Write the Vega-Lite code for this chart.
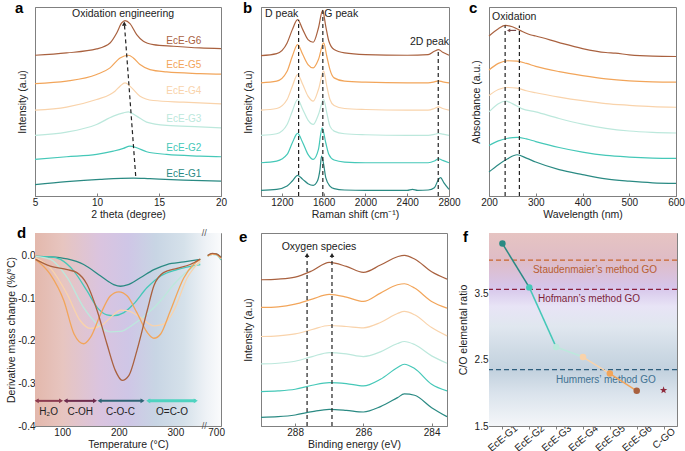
{
"$schema":"https://vega.github.io/schema/vega-lite/v6.json",
"autosize":{"type":"pad"},
"padding":{"left":6,"top":0,"right":0,"bottom":0},
"background":"white",
"config":{"font":"Liberation Sans","view":{"stroke":"#808080","strokeWidth":1},
"axis":{"labelFont":"Liberation Sans","titleFont":"Liberation Sans","labelFontSize":10,"titleFontSize":10.5,"titleFontWeight":"normal","labelColor":"#222","titleColor":"#222","domainColor":"#808080","tickColor":"#808080","grid":false,"tickSize":-3,"labelPadding":4,"titlePadding":2,"labelFlush":false,"labelOverlap":false},
"text":{"font":"Liberation Sans","fontSize":10},
"line":{"strokeWidth":1.2,"interpolate":"monotone"},
"title":{"anchor":"start","frame":"group","fontSize":15,"fontWeight":"bold","font":"Liberation Sans","color":"#000","baseline":"alphabetic","offset":-9}},
"datasets":{
"a":[
{"s":"G6","x":5,"y":423},{"s":"G6","x":7.55,"y":430},{"s":"G6","x":9.97,"y":442},{"s":"G6","x":11.05,"y":460},{"s":"G6","x":11.59,"y":490},{"s":"G6","x":11.99,"y":520},{"s":"G6","x":12.26,"y":527},{"s":"G6","x":12.66,"y":518},{"s":"G6","x":13.2,"y":485},{"s":"G6","x":13.74,"y":465},{"s":"G6","x":14.54,"y":455},{"s":"G6","x":16.16,"y":450},{"s":"G6","x":18.3,"y":445},{"s":"G6","x":20,"y":443},
{"s":"G5","x":5,"y":338},{"s":"G5","x":7.55,"y":345},{"s":"G5","x":9.97,"y":365},{"s":"G5","x":11.05,"y":385},{"s":"G5","x":11.86,"y":415},{"s":"G5","x":12.53,"y":423},{"s":"G5","x":12.93,"y":415},{"s":"G5","x":13.47,"y":395},{"s":"G5","x":14.27,"y":380},{"s":"G5","x":15.62,"y":373},{"s":"G5","x":18.3,"y":368},{"s":"G5","x":20,"y":366},
{"s":"G4","x":5,"y":258},{"s":"G4","x":7.55,"y":267},{"s":"G4","x":9.97,"y":290},{"s":"G4","x":11.05,"y":305},{"s":"G4","x":11.45,"y":315},{"s":"G4","x":11.86,"y":330},{"s":"G4","x":12.26,"y":340},{"s":"G4","x":12.8,"y":325},{"s":"G4","x":13.47,"y":300},{"s":"G4","x":14.54,"y":287},{"s":"G4","x":16.96,"y":282},{"s":"G4","x":20,"y":277},
{"s":"G3","x":5,"y":182},{"s":"G3","x":7.55,"y":192},{"s":"G3","x":9.97,"y":215},{"s":"G3","x":11.32,"y":240},{"s":"G3","x":12.13,"y":250},{"s":"G3","x":12.53,"y":253},{"s":"G3","x":13.2,"y":240},{"s":"G3","x":14.0,"y":222},{"s":"G3","x":15.62,"y":212},{"s":"G3","x":18.3,"y":208},{"s":"G3","x":20,"y":205},
{"s":"G2","x":5,"y":110},{"s":"G2","x":7.55,"y":118},{"s":"G2","x":9.97,"y":125},{"s":"G2","x":11.32,"y":135},{"s":"G2","x":12.13,"y":143},{"s":"G2","x":12.66,"y":150},{"s":"G2","x":13.2,"y":145},{"s":"G2","x":14.0,"y":133},{"s":"G2","x":15.62,"y":125},{"s":"G2","x":18.3,"y":120},{"s":"G2","x":20,"y":118},
{"s":"G1","x":5,"y":34},{"s":"G1","x":7.55,"y":43},{"s":"G1","x":10.24,"y":50},{"s":"G1","x":12.93,"y":54},{"s":"G1","x":14.27,"y":52},{"s":"G1","x":16.96,"y":48},{"s":"G1","x":20,"y":45}],
"b":[
{"s":"G6","x":1000,"y":422},{"s":"G6","x":1150,"y":428},{"s":"G6","x":1250,"y":460},{"s":"G6","x":1300,"y":500},{"s":"G6","x":1350,"y":530},{"s":"G6","x":1400,"y":500},{"s":"G6","x":1450,"y":470},{"s":"G6","x":1500,"y":462},{"s":"G6","x":1550,"y":505},{"s":"G6","x":1590,"y":558},{"s":"G6","x":1620,"y":510},{"s":"G6","x":1650,"y":465},{"s":"G6","x":1700,"y":440},{"s":"G6","x":1800,"y":430},{"s":"G6","x":2000,"y":425},{"s":"G6","x":2400,"y":423},{"s":"G6","x":2600,"y":425},{"s":"G6","x":2660,"y":435},{"s":"G6","x":2700,"y":440},{"s":"G6","x":2740,"y":432},{"s":"G6","x":2800,"y":423},
{"s":"G5","x":1000,"y":340},{"s":"G5","x":1150,"y":345},{"s":"G5","x":1250,"y":375},{"s":"G5","x":1300,"y":420},{"s":"G5","x":1350,"y":455},{"s":"G5","x":1400,"y":425},{"s":"G5","x":1450,"y":395},{"s":"G5","x":1500,"y":385},{"s":"G5","x":1550,"y":410},{"s":"G5","x":1600,"y":460},{"s":"G5","x":1630,"y":420},{"s":"G5","x":1660,"y":380},{"s":"G5","x":1700,"y":355},{"s":"G5","x":1800,"y":345},{"s":"G5","x":2000,"y":342},{"s":"G5","x":2400,"y":340},{"s":"G5","x":2600,"y":340},{"s":"G5","x":2660,"y":343},{"s":"G5","x":2700,"y":346},{"s":"G5","x":2740,"y":343},{"s":"G5","x":2800,"y":340},
{"s":"G4","x":1000,"y":258},{"s":"G4","x":1150,"y":263},{"s":"G4","x":1250,"y":290},{"s":"G4","x":1300,"y":330},{"s":"G4","x":1350,"y":365},{"s":"G4","x":1400,"y":335},{"s":"G4","x":1450,"y":300},{"s":"G4","x":1500,"y":285},{"s":"G4","x":1550,"y":320},{"s":"G4","x":1600,"y":375},{"s":"G4","x":1630,"y":330},{"s":"G4","x":1660,"y":290},{"s":"G4","x":1700,"y":272},{"s":"G4","x":1800,"y":263},{"s":"G4","x":2000,"y":260},{"s":"G4","x":2400,"y":258},{"s":"G4","x":2600,"y":258},{"s":"G4","x":2660,"y":263},{"s":"G4","x":2700,"y":268},{"s":"G4","x":2740,"y":263},{"s":"G4","x":2800,"y":258},
{"s":"G3","x":1000,"y":182},{"s":"G3","x":1150,"y":187},{"s":"G3","x":1250,"y":215},{"s":"G3","x":1300,"y":255},{"s":"G3","x":1350,"y":290},{"s":"G3","x":1400,"y":260},{"s":"G3","x":1450,"y":228},{"s":"G3","x":1500,"y":215},{"s":"G3","x":1550,"y":245},{"s":"G3","x":1600,"y":290},{"s":"G3","x":1630,"y":250},{"s":"G3","x":1660,"y":210},{"s":"G3","x":1700,"y":195},{"s":"G3","x":1800,"y":187},{"s":"G3","x":2000,"y":184},{"s":"G3","x":2400,"y":182},{"s":"G3","x":2600,"y":182},{"s":"G3","x":2660,"y":185},{"s":"G3","x":2700,"y":188},{"s":"G3","x":2740,"y":186},{"s":"G3","x":2800,"y":182},
{"s":"G2","x":1000,"y":100},{"s":"G2","x":1150,"y":105},{"s":"G2","x":1250,"y":125},{"s":"G2","x":1300,"y":160},{"s":"G2","x":1350,"y":188},{"s":"G2","x":1400,"y":160},{"s":"G2","x":1450,"y":125},{"s":"G2","x":1500,"y":110},{"s":"G2","x":1550,"y":140},{"s":"G2","x":1585,"y":205},{"s":"G2","x":1620,"y":160},{"s":"G2","x":1650,"y":125},{"s":"G2","x":1700,"y":108},{"s":"G2","x":1800,"y":102},{"s":"G2","x":2000,"y":100},{"s":"G2","x":2400,"y":100},{"s":"G2","x":2600,"y":100},{"s":"G2","x":2660,"y":105},{"s":"G2","x":2700,"y":112},{"s":"G2","x":2740,"y":107},{"s":"G2","x":2800,"y":100},
{"s":"G1","x":1000,"y":17},{"s":"G1","x":1150,"y":20},{"s":"G1","x":1250,"y":30},{"s":"G1","x":1300,"y":45},{"s":"G1","x":1350,"y":62},{"s":"G1","x":1400,"y":50},{"s":"G1","x":1450,"y":37},{"s":"G1","x":1500,"y":32},{"s":"G1","x":1540,"y":45},{"s":"G1","x":1565,"y":80},{"s":"G1","x":1580,"y":120},{"s":"G1","x":1600,"y":95},{"s":"G1","x":1620,"y":55},{"s":"G1","x":1660,"y":30},{"s":"G1","x":1700,"y":22},{"s":"G1","x":1800,"y":18},{"s":"G1","x":2000,"y":17},{"s":"G1","x":2400,"y":17},{"s":"G1","x":2450,"y":20},{"s":"G1","x":2500,"y":17},{"s":"G1","x":2600,"y":18},{"s":"G1","x":2660,"y":25},{"s":"G1","x":2700,"y":50},{"s":"G1","x":2720,"y":55},{"s":"G1","x":2750,"y":40},{"s":"G1","x":2800,"y":20}],
"c":[
{"s":"G6","x":200,"y":485},{"s":"G6","x":220,"y":507},{"s":"G6","x":235,"y":517},{"s":"G6","x":250,"y":513},{"s":"G6","x":265,"y":503},{"s":"G6","x":290,"y":488},{"s":"G6","x":300,"y":485},{"s":"G6","x":350,"y":465},{"s":"G6","x":400,"y":447},{"s":"G6","x":450,"y":435},{"s":"G6","x":470,"y":433},{"s":"G6","x":500,"y":428},{"s":"G6","x":550,"y":424},{"s":"G6","x":600,"y":423},
{"s":"G5","x":200,"y":382},{"s":"G5","x":220,"y":402},{"s":"G5","x":240,"y":410},{"s":"G5","x":260,"y":409},{"s":"G5","x":280,"y":402},{"s":"G5","x":300,"y":393},{"s":"G5","x":350,"y":377},{"s":"G5","x":400,"y":365},{"s":"G5","x":450,"y":355},{"s":"G5","x":500,"y":349},{"s":"G5","x":550,"y":346},{"s":"G5","x":600,"y":345},
{"s":"G4","x":200,"y":305},{"s":"G4","x":220,"y":323},{"s":"G4","x":240,"y":329},{"s":"G4","x":260,"y":327},{"s":"G4","x":280,"y":319},{"s":"G4","x":300,"y":313},{"s":"G4","x":350,"y":300},{"s":"G4","x":400,"y":289},{"s":"G4","x":450,"y":280},{"s":"G4","x":500,"y":275},{"s":"G4","x":550,"y":271},{"s":"G4","x":600,"y":269},
{"s":"G3","x":200,"y":255},{"s":"G3","x":220,"y":280},{"s":"G3","x":235,"y":288},{"s":"G3","x":250,"y":280},{"s":"G3","x":270,"y":265},{"s":"G3","x":300,"y":255},{"s":"G3","x":350,"y":235},{"s":"G3","x":400,"y":218},{"s":"G3","x":450,"y":205},{"s":"G3","x":500,"y":197},{"s":"G3","x":550,"y":193},{"s":"G3","x":600,"y":191},
{"s":"G2","x":200,"y":153},{"s":"G2","x":220,"y":167},{"s":"G2","x":240,"y":175},{"s":"G2","x":260,"y":178},{"s":"G2","x":280,"y":173},{"s":"G2","x":300,"y":165},{"s":"G2","x":350,"y":147},{"s":"G2","x":400,"y":133},{"s":"G2","x":450,"y":123},{"s":"G2","x":500,"y":118},{"s":"G2","x":550,"y":115},{"s":"G2","x":600,"y":114},
{"s":"G1","x":200,"y":73},{"s":"G1","x":220,"y":95},{"s":"G1","x":240,"y":113},{"s":"G1","x":260,"y":125},{"s":"G1","x":280,"y":115},{"s":"G1","x":300,"y":103},{"s":"G1","x":350,"y":80},{"s":"G1","x":400,"y":65},{"s":"G1","x":450,"y":52},{"s":"G1","x":500,"y":45},{"s":"G1","x":550,"y":40},{"s":"G1","x":600,"y":38}],
"e":[
{"s":"G6","x":289,"y":438},{"s":"G6","x":288.5,"y":440},{"s":"G6","x":288,"y":446},{"s":"G6","x":287.5,"y":465},{"s":"G6","x":287,"y":490},{"s":"G6","x":286.5,"y":478},{"s":"G6","x":286,"y":460},{"s":"G6","x":285.5,"y":482},{"s":"G6","x":285,"y":507},{"s":"G6","x":284.8,"y":511},{"s":"G6","x":284.5,"y":500},{"s":"G6","x":284,"y":462},{"s":"G6","x":283.55,"y":440},
{"s":"G5","x":289,"y":355},{"s":"G5","x":288.5,"y":357},{"s":"G5","x":288,"y":365},{"s":"G5","x":287.5,"y":380},{"s":"G5","x":287,"y":394},{"s":"G5","x":286.5,"y":386},{"s":"G5","x":286,"y":373},{"s":"G5","x":285.5,"y":398},{"s":"G5","x":285,"y":423},{"s":"G5","x":284.8,"y":426},{"s":"G5","x":284.5,"y":413},{"s":"G5","x":284,"y":373},{"s":"G5","x":283.55,"y":353},
{"s":"G4","x":289,"y":268},{"s":"G4","x":288.5,"y":270},{"s":"G4","x":288,"y":276},{"s":"G4","x":287.5,"y":289},{"s":"G4","x":287,"y":301},{"s":"G4","x":286.5,"y":298},{"s":"G4","x":286,"y":294},{"s":"G4","x":285.5,"y":310},{"s":"G4","x":285,"y":337},{"s":"G4","x":284.8,"y":343},{"s":"G4","x":284.5,"y":333},{"s":"G4","x":284,"y":295},{"s":"G4","x":283.55,"y":270},
{"s":"G3","x":289,"y":186},{"s":"G3","x":288.5,"y":188},{"s":"G3","x":288,"y":194},{"s":"G3","x":287.5,"y":208},{"s":"G3","x":287,"y":220},{"s":"G3","x":286.5,"y":216},{"s":"G3","x":286,"y":208},{"s":"G3","x":285.5,"y":222},{"s":"G3","x":285,"y":247},{"s":"G3","x":284.8,"y":253},{"s":"G3","x":284.5,"y":244},{"s":"G3","x":284,"y":210},{"s":"G3","x":283.55,"y":188},
{"s":"G2","x":289,"y":103},{"s":"G2","x":288.5,"y":105},{"s":"G2","x":288,"y":110},{"s":"G2","x":287.5,"y":122},{"s":"G2","x":287,"y":130},{"s":"G2","x":286.5,"y":127},{"s":"G2","x":286,"y":120},{"s":"G2","x":285.5,"y":140},{"s":"G2","x":285,"y":175},{"s":"G2","x":284.8,"y":185},{"s":"G2","x":284.5,"y":172},{"s":"G2","x":284,"y":125},{"s":"G2","x":283.55,"y":105},
{"s":"G1","x":289,"y":26},{"s":"G1","x":288.5,"y":28},{"s":"G1","x":288,"y":33},{"s":"G1","x":287.5,"y":43},{"s":"G1","x":287,"y":50},{"s":"G1","x":286.5,"y":47},{"s":"G1","x":286,"y":42},{"s":"G1","x":285.5,"y":58},{"s":"G1","x":285,"y":85},{"s":"G1","x":284.8,"y":96},{"s":"G1","x":284.5,"y":92},{"s":"G1","x":284,"y":55},{"s":"G1","x":283.55,"y":28}],
"d":[
{"s":"G1","g":1,"t":53,"v":-0.002},{"s":"G1","g":1,"t":79,"v":-0.003},{"s":"G1","g":1,"t":109,"v":-0.008},{"s":"G1","g":1,"t":138,"v":-0.021},{"s":"G1","g":1,"t":168,"v":-0.048},{"s":"G1","g":1,"t":191,"v":-0.068},{"s":"G1","g":1,"t":203,"v":-0.072},{"s":"G1","g":1,"t":215,"v":-0.069},{"s":"G1","g":1,"t":238,"v":-0.052},{"s":"G1","g":1,"t":262,"v":-0.033},{"s":"G1","g":1,"t":285,"v":-0.021},{"s":"G1","g":1,"t":315,"v":-0.015},{"s":"G1","g":1,"t":344,"v":-0.009},
{"s":"G2","g":1,"t":53,"v":-0.002},{"s":"G2","g":1,"t":79,"v":-0.003},{"s":"G2","g":1,"t":97,"v":-0.009},{"s":"G2","g":1,"t":121,"v":-0.037},{"s":"G2","g":1,"t":144,"v":-0.083},{"s":"G2","g":1,"t":162,"v":-0.122},{"s":"G2","g":1,"t":179,"v":-0.139},{"s":"G2","g":1,"t":191,"v":-0.141},{"s":"G2","g":1,"t":209,"v":-0.134},{"s":"G2","g":1,"t":226,"v":-0.114},{"s":"G2","g":1,"t":250,"v":-0.075},{"s":"G2","g":1,"t":274,"v":-0.048},{"s":"G2","g":1,"t":303,"v":-0.033},{"s":"G2","g":1,"t":344,"v":-0.021},
{"s":"G3","g":1,"t":53,"v":-0.002},{"s":"G3","g":1,"t":79,"v":-0.009},{"s":"G3","g":1,"t":109,"v":-0.052},{"s":"G3","g":1,"t":138,"v":-0.122},{"s":"G3","g":1,"t":162,"v":-0.161},{"s":"G3","g":1,"t":185,"v":-0.179},{"s":"G3","g":1,"t":203,"v":-0.178},{"s":"G3","g":1,"t":226,"v":-0.161},{"s":"G3","g":1,"t":250,"v":-0.137},{"s":"G3","g":1,"t":274,"v":-0.106},{"s":"G3","g":1,"t":297,"v":-0.068},{"s":"G3","g":1,"t":321,"v":-0.037},{"s":"G3","g":1,"t":344,"v":-0.017},
{"s":"G4","g":1,"t":53,"v":-0.005},{"s":"G4","g":1,"t":79,"v":-0.029},{"s":"G4","g":1,"t":109,"v":-0.091},{"s":"G4","g":1,"t":132,"v":-0.153},{"s":"G4","g":1,"t":150,"v":-0.171},{"s":"G4","g":1,"t":168,"v":-0.165},{"s":"G4","g":1,"t":191,"v":-0.139},{"s":"G4","g":1,"t":203,"v":-0.128},{"s":"G4","g":1,"t":215,"v":-0.129},{"s":"G4","g":1,"t":238,"v":-0.145},{"s":"G4","g":1,"t":262,"v":-0.165},{"s":"G4","g":1,"t":279,"v":-0.161},{"s":"G4","g":1,"t":297,"v":-0.13},{"s":"G4","g":1,"t":321,"v":-0.052},{"s":"G4","g":1,"t":344,"v":-0.013},
{"s":"G5","g":1,"t":53,"v":-0.009},{"s":"G5","g":1,"t":79,"v":-0.044},{"s":"G5","g":1,"t":103,"v":-0.106},{"s":"G5","g":1,"t":121,"v":-0.184},{"s":"G5","g":1,"t":138,"v":-0.207},{"s":"G5","g":1,"t":150,"v":-0.192},{"s":"G5","g":1,"t":168,"v":-0.137},{"s":"G5","g":1,"t":185,"v":-0.095},{"s":"G5","g":1,"t":200,"v":-0.085},{"s":"G5","g":1,"t":215,"v":-0.095},{"s":"G5","g":1,"t":232,"v":-0.134},{"s":"G5","g":1,"t":250,"v":-0.18},{"s":"G5","g":1,"t":262,"v":-0.194},{"s":"G5","g":1,"t":274,"v":-0.184},{"s":"G5","g":1,"t":291,"v":-0.13},{"s":"G5","g":1,"t":315,"v":-0.052},{"s":"G5","g":1,"t":332,"v":-0.021},{"s":"G5","g":1,"t":344,"v":-0.009},
{"s":"G6","g":1,"t":53,"v":-0.009},{"s":"G6","g":1,"t":79,"v":-0.025},{"s":"G6","g":1,"t":109,"v":-0.033},{"s":"G6","g":1,"t":126,"v":-0.04},{"s":"G6","g":1,"t":144,"v":-0.068},{"s":"G6","g":1,"t":162,"v":-0.13},{"s":"G6","g":1,"t":179,"v":-0.207},{"s":"G6","g":1,"t":194,"v":-0.27},{"s":"G6","g":1,"t":206,"v":-0.293},{"s":"G6","g":1,"t":218,"v":-0.281},{"s":"G6","g":1,"t":232,"v":-0.223},{"s":"G6","g":1,"t":250,"v":-0.13},{"s":"G6","g":1,"t":262,"v":-0.071},{"s":"G6","g":1,"t":279,"v":-0.04},{"s":"G6","g":1,"t":303,"v":-0.03},{"s":"G6","g":1,"t":326,"v":-0.021},{"s":"G6","g":1,"t":344,"v":-0.008},
{"s":"G1","g":2,"t":674,"v":0.0},{"s":"G1","g":2,"t":688,"v":0.004},{"s":"G1","g":2,"t":700,"v":0.004},{"s":"G1","g":2,"t":715,"v":-0.004},
{"s":"G2","g":2,"t":674,"v":-0.001},{"s":"G2","g":2,"t":688,"v":0.003},{"s":"G2","g":2,"t":700,"v":0.002},{"s":"G2","g":2,"t":715,"v":-0.01},
{"s":"G3","g":2,"t":674,"v":-0.001},{"s":"G3","g":2,"t":688,"v":0.003},{"s":"G3","g":2,"t":700,"v":0.002},{"s":"G3","g":2,"t":715,"v":-0.008},
{"s":"G4","g":2,"t":674,"v":-0.001},{"s":"G4","g":2,"t":688,"v":0.003},{"s":"G4","g":2,"t":700,"v":0.003},{"s":"G4","g":2,"t":715,"v":-0.007},
{"s":"G5","g":2,"t":674,"v":-0.001},{"s":"G5","g":2,"t":688,"v":0.004},{"s":"G5","g":2,"t":700,"v":0.003},{"s":"G5","g":2,"t":715,"v":-0.006},
{"s":"G6","g":2,"t":674,"v":0.0},{"s":"G6","g":2,"t":688,"v":0.005},{"s":"G6","g":2,"t":700,"v":0.004},{"s":"G6","g":2,"t":715,"v":-0.004}],
"f":[{"k":"EcE-G1","v":4.25,"s":"G1"},{"k":"EcE-G2","v":3.59,"s":"G2"},{"k":"EcE-G3","v":2.69,"s":"G3"},{"k":"EcE-G4","v":2.54,"s":"G4"},{"k":"EcE-G5","v":2.29,"s":"G5"},{"k":"EcE-G6","v":2.03,"s":"G6"}],
"fseg":[{"k":"EcE-G1","k2":"EcE-G2","v":4.25,"v2":3.59,"s":"G1"},{"k":"EcE-G2","k2":"EcE-G3","v":3.59,"v2":2.69,"s":"G2"},{"k":"EcE-G3","k2":"EcE-G4","v":2.69,"v2":2.54,"s":"G3"},{"k":"EcE-G4","k2":"EcE-G5","v":2.54,"v2":2.29,"s":"G4"},{"k":"EcE-G5","k2":"EcE-G6","v":2.29,"v2":2.03,"s":"G5"}]
},
"columns":3,
"spacing":{"row":37,"column":40},
"bounds":"flush",
"concat":[
{"width":186,"height":189,"title":{"text":"a","dx":-20},
"layer":[
{"data":{"name":"a"},"mark":{"type":"line"},
"encoding":{"x":{"field":"x","type":"quantitative","scale":{"domain":[5,20],"nice":false,"zero":false},"axis":{"values":[5,10,15,20],"title":"2 theta (degree)"}},
"y":{"field":"y","type":"quantitative","scale":{"domain":[0,568],"nice":false,"zero":false},"axis":{"labels":false,"ticks":false,"title":"Intensity (a.u)","titlePadding":8}},
"color":{"field":"s","type":"nominal","scale":{"domain":["G1","G2","G3","G4","G5","G6"],"range":["#2a8a83","#45c8b8","#bce8dc","#f9d3ab","#f2a55a","#a9613f"]},"legend":null}}},
{"data":{"values":[{"s":"G6","x":17,"y":465,"t":"EcE-G6"},{"s":"G5","x":17,"y":395,"t":"EcE-G5"},{"s":"G4","x":17,"y":315,"t":"EcE-G4"},{"s":"G3","x":17,"y":230,"t":"EcE-G3"},{"s":"G2","x":17,"y":143,"t":"EcE-G2"},{"s":"G1","x":17,"y":65,"t":"EcE-G1"}]},
"mark":{"type":"text","fontSize":10},
"encoding":{"x":{"field":"x","type":"quantitative"},"y":{"field":"y","type":"quantitative"},"text":{"field":"t"},"color":{"field":"s","type":"nominal","legend":null}}},
{"data":{"values":[{"x":13.12,"y":60,"x2":12.22,"y2":512}]},"mark":{"type":"rule","color":"#222","strokeDash":[4,3],"strokeWidth":1.2},
"encoding":{"x":{"field":"x","type":"quantitative"},"y":{"field":"y","type":"quantitative"},"x2":{"field":"x2"},"y2":{"field":"y2"}}},
{"data":{"values":[{"x":12.2,"y":518}]},"mark":{"type":"point","shape":"triangle-up","filled":true,"color":"#222","size":22,"opacity":1},
"encoding":{"x":{"field":"x","type":"quantitative"},"y":{"field":"y","type":"quantitative"}}},
{"data":{"values":[{"x":12.1,"y":547,"t":"Oxidation engineering"}]},"mark":{"type":"text","fontSize":10.5,"color":"#222"},
"encoding":{"x":{"field":"x","type":"quantitative"},"y":{"field":"y","type":"quantitative"},"text":{"field":"t"}}}
]},
{"width":188,"height":189,"title":{"text":"b","dx":-18},
"layer":[
{"data":{"name":"b"},"mark":{"type":"line"},
"encoding":{"x":{"field":"x","type":"quantitative","scale":{"domain":[1000,2800],"nice":false,"zero":false},"axis":{"values":[1200,1600,2000,2400,2800],"format":"d","title":"Raman shift (cm⁻¹)"}},
"y":{"field":"y","type":"quantitative","scale":{"domain":[0,568],"nice":false,"zero":false},"axis":{"labels":false,"ticks":false,"title":"Intensity (a.u)","titlePadding":8}},
"color":{"field":"s","type":"nominal","scale":{"domain":["G1","G2","G3","G4","G5","G6"],"range":["#2a8a83","#45c8b8","#bce8dc","#f9d3ab","#f2a55a","#a9613f"]},"legend":null}}},
{"data":{"values":[{"x":1360,"y":0,"y2":530},{"x":1592,"y":0,"y2":558},{"x":2697,"y":0,"y2":440}]},"mark":{"type":"rule","color":"#222","strokeDash":[4,3],"strokeWidth":1.2},
"encoding":{"x":{"field":"x","type":"quantitative"},"y":{"field":"y","type":"quantitative"},"y2":{"field":"y2"}}},
{"data":{"values":[{"x":1198,"y":548,"t":"D peak"},{"x":1768,"y":548,"t":"G peak"},{"x":2613,"y":462,"t":"2D peak"}]},"mark":{"type":"text","fontSize":10.5,"color":"#222"},
"encoding":{"x":{"field":"x","type":"quantitative"},"y":{"field":"y","type":"quantitative"},"text":{"field":"t"}}}
]},
{"width":187,"height":189,"title":{"text":"c","dx":-20},
"layer":[
{"data":{"name":"c"},"mark":{"type":"line"},
"encoding":{"x":{"field":"x","type":"quantitative","scale":{"domain":[200,600],"nice":false,"zero":false},"axis":{"values":[200,300,400,500,600],"title":"Wavelength (nm)"}},
"y":{"field":"y","type":"quantitative","scale":{"domain":[0,573],"nice":false,"zero":false},"axis":{"labels":false,"ticks":false,"title":"Absorbance (a.u.)","titlePadding":8}},
"color":{"field":"s","type":"nominal","scale":{"domain":["G1","G2","G3","G4","G5","G6"],"range":["#2a8a83","#45c8b8","#bce8dc","#f9d3ab","#f2a55a","#a9613f"]},"legend":null}}},
{"data":{"values":[{"x":234.5,"y":0,"y2":517},{"x":265,"y":0,"y2":517}]},"mark":{"type":"rule","color":"#222","strokeDash":[4,3],"strokeWidth":1.2},
"encoding":{"x":{"field":"x","type":"quantitative"},"y":{"field":"y","type":"quantitative"},"y2":{"field":"y2"}}},
{"data":{"values":[{"x":258,"y":502,"x2":243}]},"mark":{"type":"rule","color":"#7a4a4a","strokeWidth":1.2},
"encoding":{"x":{"field":"x","type":"quantitative"},"y":{"field":"y","type":"quantitative"},"x2":{"field":"x2"}}},
{"data":{"values":[{"x":242,"y":502}]},"mark":{"type":"point","shape":"triangle-left","filled":true,"color":"#7a4a4a","size":14,"opacity":1},
"encoding":{"x":{"field":"x","type":"quantitative"},"y":{"field":"y","type":"quantitative"}}},
{"data":{"values":[{"x":254,"y":543,"t":"Oxidation"}]},"mark":{"type":"text","fontSize":10.5,"color":"#222"},
"encoding":{"x":{"field":"x","type":"quantitative"},"y":{"field":"y","type":"quantitative"},"text":{"field":"t"}}}
]},
{"width":186,"height":193,"title":{"text":"d","dx":-18,"offset":-12},
"layer":[
{"data":{"values":[{"x1":52,"x2":715,"y1":0.053,"y2":-0.4}]},
"mark":{"type":"rect","fill":{"gradient":"linear","x1":0,"y1":0,"x2":1,"y2":0,"stops":[{"offset":0,"color":"#e3b8ac"},{"offset":0.15,"color":"#e7c5c0"},{"offset":0.35,"color":"#dac4df"},{"offset":0.5,"color":"#cfc6e6"},{"offset":0.65,"color":"#c8d5e4"},{"offset":0.8,"color":"#d5e1ea"},{"offset":0.92,"color":"#eef2f6"},{"offset":1,"color":"#fafbfc"}]}},
"encoding":{"x":{"field":"x1","type":"quantitative","scale":{"domain":[52,347,672,715],"range":[0,167,172,186],"nice":false,"zero":false},"axis":{"values":[100,200,300,700],"title":"Temperature (°C)"}},"x2":{"field":"x2"},
"y":{"field":"y1","type":"quantitative","scale":{"domain":[-0.4,0.053],"nice":false,"zero":false},"axis":{"values":[-0.4,-0.3,-0.2,-0.1,0],"labelExpr":"datum.value == 0 ? '0.0' : '-' + format(abs(datum.value), '.1f')","title":"Derivative mass change (%/°C)","titlePadding":1,"labelPadding":3}},"y2":{"field":"y2"}}},
{"data":{"name":"d"},"mark":{"type":"line","strokeWidth":1.3},
"encoding":{"x":{"field":"t","type":"quantitative"},"y":{"field":"v","type":"quantitative"},"detail":{"field":"g"},
"color":{"field":"s","type":"nominal","scale":{"domain":["G1","G2","G3","G4","G5","G6"],"range":["#2a8a83","#45c8b8","#bce8dc","#f9d3ab","#f2a55a","#a9613f"]},"legend":null}}},
{"data":{"values":[{"t1":55,"t2":98,"v":-0.341,"c":"#8c3b4f","w":2},{"t1":106,"t2":158,"v":-0.341,"c":"#6d2c4d","w":2},{"t1":166,"t2":242,"v":-0.341,"c":"#2f6475","w":2},{"t1":252,"t2":336,"v":-0.341,"c":"#4fd3c0","w":3}]},
"layer":[
{"mark":{"type":"rule"},"encoding":{"x":{"field":"t1","type":"quantitative"},"x2":{"field":"t2"},"y":{"field":"v","type":"quantitative"},"color":{"field":"c","type":"nominal","scale":null},"strokeWidth":{"field":"w","type":"quantitative","scale":null}}},
{"mark":{"type":"point","shape":"triangle-left","filled":true,"size":22,"opacity":1},"encoding":{"x":{"field":"t1","type":"quantitative"},"y":{"field":"v","type":"quantitative"},"color":{"field":"c","type":"nominal","scale":null}}},
{"mark":{"type":"point","shape":"triangle-right","filled":true,"size":22,"opacity":1},"encoding":{"x":{"field":"t2","type":"quantitative"},"y":{"field":"v","type":"quantitative"},"color":{"field":"c","type":"nominal","scale":null}}}
]},
{"data":{"values":[{"t":76,"v":-0.366,"l":"H₂O"},{"t":132,"v":-0.366,"l":"C-OH"},{"t":203,"v":-0.366,"l":"C-O-C"},{"t":294,"v":-0.366,"l":"O=C-O"}]},"mark":{"type":"text","fontSize":10,"color":"#222"},
"encoding":{"x":{"field":"t","type":"quantitative"},"y":{"field":"v","type":"quantitative"},"text":{"field":"l"}}},
{"data":{"values":[{"t":500,"v":0.053,"l":"//"},{"t":500,"v":-0.4,"l":"//"}]},"mark":{"type":"text","fontSize":9,"color":"#555","baseline":"middle"},
"encoding":{"x":{"field":"t","type":"quantitative"},"y":{"field":"v","type":"quantitative"},"text":{"field":"l"}}}
]},
{"width":186,"height":193,"title":{"text":"e","dx":-22,"offset":-12},
"layer":[
{"data":{"name":"e"},"mark":{"type":"line"},
"encoding":{"x":{"field":"x","type":"quantitative","scale":{"domain":[283.55,289],"reverse":true,"nice":false,"zero":false},"axis":{"values":[289,288,287,286,285,284],"title":"Binding energy (eV)"}},
"y":{"field":"y","type":"quantitative","scale":{"domain":[0,578],"nice":false,"zero":false},"axis":{"labels":false,"ticks":false,"title":"Intensity (a.u)","titlePadding":8}},
"color":{"field":"s","type":"nominal","scale":{"domain":["G1","G2","G3","G4","G5","G6"],"range":["#2a8a83","#45c8b8","#bce8dc","#f9d3ab","#f2a55a","#a9613f"]},"legend":null}}},
{"data":{"values":[{"x":287.65,"y":0,"y2":506},{"x":286.92,"y":0,"y2":506}]},"mark":{"type":"rule","color":"#222","strokeDash":[4,3],"strokeWidth":1.2},
"encoding":{"x":{"field":"x","type":"quantitative"},"y":{"field":"y","type":"quantitative"},"y2":{"field":"y2"}}},
{"data":{"values":[{"x":287.65,"y":512},{"x":286.92,"y":512}]},"mark":{"type":"point","shape":"triangle-up","filled":true,"color":"#222","size":22,"opacity":1},
"encoding":{"x":{"field":"x","type":"quantitative"},"y":{"field":"y","type":"quantitative"}}},
{"data":{"values":[{"x":287.3,"y":536,"t":"Oxygen species"}]},"mark":{"type":"text","fontSize":10.5,"color":"#222"},
"encoding":{"x":{"field":"x","type":"quantitative"},"y":{"field":"y","type":"quantitative"},"text":{"field":"t"}}}
]},
{"width":188,"height":193,"title":{"text":"f","dx":-26,"offset":-12},
"layer":[
{"data":{"values":[{"y1":4.41,"y2":1.5}]},
"mark":{"type":"rect","fill":{"gradient":"linear","x1":0,"y1":0,"x2":0,"y2":1,"stops":[{"offset":0,"color":"#e6c4c2"},{"offset":0.14,"color":"#dfbcc6"},{"offset":0.28,"color":"#d6c5ea"},{"offset":0.38,"color":"#e8e4f6"},{"offset":0.485,"color":"#e0e7ef"},{"offset":0.62,"color":"#cdd9e4"},{"offset":0.71,"color":"#c2d1de"},{"offset":0.83,"color":"#dae3ec"},{"offset":1,"color":"#f4f6f9"}]}},
"encoding":{"x":{"value":0},"x2":{"value":"width"},
"y":{"field":"y1","type":"quantitative","scale":{"domain":[1.5,4.41],"nice":false,"zero":false},"axis":{"values":[1.5,2,2.5,3,3.5,4],"format":".1f","title":"C/O elemental ratio","titlePadding":6}},"y2":{"field":"y2"}}},
{"data":{"values":[{"v":4.0,"c":"#c8642c"},{"v":3.56,"c":"#8a1f3c"},{"v":2.35,"c":"#2c5d7c"}]},"mark":{"type":"rule","strokeDash":[5,3],"strokeWidth":1.3},
"encoding":{"y":{"field":"v","type":"quantitative"},"color":{"field":"c","type":"nominal","scale":null}}},
{"data":{"values":[{"k":"EcE-G4","v":3.85,"t":"Staudenmaier’s method GO","c":"#b85e32","dx":12},{"k":"EcE-G4","v":3.41,"t":"Hofmann’s method GO","c":"#7c1f3c","dx":6},{"k":"EcE-G5","v":2.19,"t":"Hummers’ method GO","c":"#3f7292","dx":-4}]},
"mark":{"type":"text","fontSize":10},
"encoding":{"x":{"field":"k","type":"nominal"},"y":{"field":"v","type":"quantitative"},"text":{"field":"t"},"color":{"field":"c","type":"nominal","scale":null},"xOffset":{"field":"dx","type":"quantitative","scale":null}}},
{"data":{"name":"fseg"},"mark":{"type":"rule","strokeWidth":1.5},
"encoding":{"x":{"field":"k","type":"nominal"},"x2":{"field":"k2"},"y":{"field":"v","type":"quantitative"},"y2":{"field":"v2"},
"color":{"field":"s","type":"nominal","scale":{"domain":["G1","G2","G3","G4","G5","G6"],"range":["#2a8a83","#45c8b8","#bce8dc","#f9d3ab","#f2a55a","#a9613f"]},"legend":null}}},
{"data":{"name":"f"},"mark":{"type":"point","filled":true,"size":42,"opacity":1,"shape":"circle"},
"encoding":{"x":{"field":"k","type":"nominal","scale":{"type":"point","domain":["EcE-G1","EcE-G2","EcE-G3","EcE-G4","EcE-G5","EcE-G6","C-GO"],"padding":0.5},
"axis":{"title":null,"labelAngle":-40,"labelAlign":"center","labelBaseline":"middle","labelFontSize":10,"labelPadding":9,"tickSize":3,"encode":{"labels":{"update":{"fill":{"signal":"datum.value=='EcE-G1'?'#2a8a83':datum.value=='EcE-G2'?'#45c8b8':datum.value=='EcE-G3'?'#bce8dc':datum.value=='EcE-G4'?'#f9d3ab':datum.value=='EcE-G5'?'#f2a55a':datum.value=='EcE-G6'?'#a9613f':'#9a2f2f'"}}}}}},
"y":{"field":"v","type":"quantitative"},
"color":{"field":"s","type":"nominal","legend":null}}},
{"data":{"values":[{"k":"C-GO","v":2.04}]},"mark":{"type":"point","shape":"M0,-1L0.24,-0.32L0.95,-0.31L0.38,0.12L0.59,0.81L0,0.4L-0.59,0.81L-0.38,0.12L-0.95,-0.31L-0.24,-0.32Z","filled":true,"color":"#8e2a3c","size":60,"opacity":1},
"encoding":{"x":{"field":"k","type":"nominal"},"y":{"field":"v","type":"quantitative"}}}
]}
]
}
